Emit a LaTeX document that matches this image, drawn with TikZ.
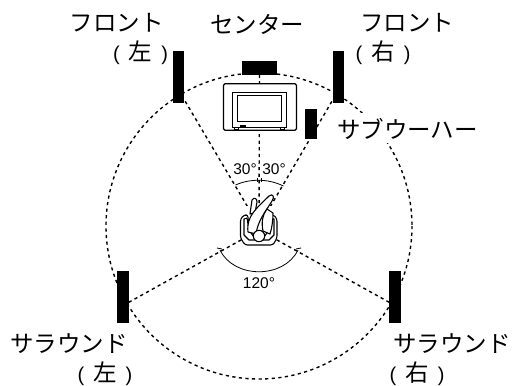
\documentclass[tikz,border=0pt]{standalone}
\usepackage{fontspec}
\setmainfont{Liberation Sans}
\newfontfamily\jpf{Noto Sans CJK JP}
\newcommand{\pnt}[1]{{\rmfamily\fontsize{20}{20}\selectfont(}\hspace{9pt}#1\hspace{9pt}{\rmfamily\fontsize{20}{20}\selectfont)}}
\usetikzlibrary{calc}
\tikzset{
 spk/.style={fill=black,draw=none,inner sep=0pt,minimum width=#1},
 lab/.style={font=\jpf\fontsize{23.5}{26}\selectfont,inner sep=0pt,anchor=center},
 deg/.style={font=\fontsize{15.5}{18}\selectfont,inner sep=0pt},
 dots/.style={dash pattern=on 3.2pt off 3.4pt,line width=1.4pt},
 arcline/.style={line width=0.8pt},
 body/.style={line width=1.1pt,fill=white,line join=round},
}
\begin{document}
\begin{tikzpicture}[x=1pt,y=-1pt]
\useasboundingbox (0,0) rectangle (515,386);
\coordinate (c) at (259,226);
\coordinate (b) at (259,230);
\draw[dots] (c) circle[radius=153];
% label mask over the circle
\node[fill=white,minimum width=138pt,minimum height=30pt,inner sep=0pt] (mask) at (407.5,128) {};
% sight lines
\coordinate (lflow) at (178.5,90);
\coordinate (lfrow) at (338.5,90);
\coordinate (lsl) at (123,305.5);
\coordinate (lsr) at (395,305.5);
\draw[dots] (lflow) -- (c);
\draw[dots] (lfrow) -- (c);
\draw[dots] (259.5,68) -- (c);
\draw[dots] (lsl) -- (b);
\draw[dots] (lsr) -- (b);
% speakers
\node[spk=11.5pt,minimum height=52pt] (fl) at (178.5,77) {};
\node[spk=11.5pt,minimum height=52pt] (fr) at (338.5,77) {};
\node[spk=35.5pt,minimum height=14.5pt] (ce) at (259.5,68) {};
\node[spk=11.5pt,minimum height=30pt] (sw) at (311,124) {};
\node[spk=11.5pt,minimum height=52pt] (sl) at (123,296.5) {};
\node[spk=11.5pt,minimum height=52pt] (sr) at (395,296.5) {};
% TV
\node[draw=black,fill=white,line width=1.2pt,rounded corners=1.5pt,minimum width=73pt,minimum height=46.5pt,inner sep=0pt] (tv) at (260,107) {};
\node[draw=black,line width=1pt,minimum width=54pt,minimum height=35pt,inner sep=0pt] (scr) at (259.5,109.5) {};
\node[draw=black,line width=0.8pt,minimum width=44.5pt,minimum height=26.5pt,inner sep=0pt] (scr2) at (259.5,108.5) {};
\draw[line width=0.8pt] (234,127) -- ++(0,2.5) -- ++(4,0) -- ++(0,-2.5);
\draw[line width=0.8pt] (280,127) -- ++(0,2.5) -- ++(4,0) -- ++(0,-2.5);
\fill (240,125) rectangle (246,126.5);
% listener
\fill[white] (242,206) rectangle (276,246);
\draw[body,rounded corners=2.5pt] (240.5,219) -- (240.5,238) -- (245,245) -- (273,245) -- (277,238) -- (277,219) -- (274,215) -- (270,215) -- (269,236) -- (249,236) -- (248,215) -- (244,215) -- cycle;
\draw[body] (244,219) -- (244,235) -- (249,240) -- (256,240) -- (249,230) -- (247,218) -- cycle;
\draw[body] (274,219) -- (274,235) -- (269,240) -- (262,240) -- (269,230) -- (271,218) -- cycle;
\draw[body] (250,214) -- (252,200) .. controls (254,197) and (257,198) .. (257,202) -- (255,213) -- cycle;
\draw[body] (248,232) .. controls (246,216) and (257,208) .. (269,196) .. controls (273,193) and (275,197) .. (272,201) .. controls (266,211) and (258,220) .. (256,234) -- cycle;
\draw[body] (263,231) .. controls (261,222) and (263,214) .. (267,209) -- (273,213) .. controls (273,220) and (272,228) .. (270,234) -- cycle;
\draw[body] (259,236) circle[radius=5.7];
% arcs
\draw[arcline] ($(c)+(-23.5,-41)$) .. controls ($(c)+(-9,-47.5)$) and ($(c)+(9,-47.5)$) .. ($(c)+(24.5,-40)$);
\draw[arcline] (257,178) -- (257,182) (261,178) -- (261,182);
\draw[arcline] (220,250) .. controls (234,279) and (284,279) .. (298,250);
\draw[arcline] (217,248) -- (222,249);
\draw[arcline] (296,249) -- (301,248);
% labels
\node[deg] (d1) at (245,169) {30°};
\node[deg] (d2) at (274,169) {30°};
\node[deg] (d3) at (259,283) {120°};
\node[lab] (t1) at (117,23) {フロント};
\node[lab] (t2) at (140.5,53) {\pnt{左}};
\node[lab] (t3) at (257,24) {センター};
\node[lab] (t4) at (407,23) {フロント};
\node[lab] (t5) at (383,53) {\pnt{右}};
\node[lab] (t6) at (407.5,129) {サブウーハー};
\node[lab] (t7) at (69,344) {サラウンド};
\node[lab] (t8) at (105,374) {\pnt{左}};
\node[lab] (t9) at (452,344) {サラウンド};
\node[lab] (t10) at (417,374) {\pnt{右}};
\end{tikzpicture}
\end{document}
